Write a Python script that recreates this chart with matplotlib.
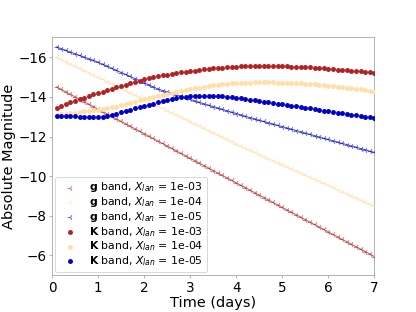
import numpy as np
import matplotlib
matplotlib.use("Agg")
import matplotlib.pyplot as plt

time_days = np.round(np.arange(1, 71) * 0.1, 1)

g_1e3 = [-14.50, -14.38, -14.25, -14.13, -14.00, -13.88, -13.76, -13.63, -13.51, -13.38,
         -13.26, -13.14, -13.01, -12.89, -12.76, -12.64, -12.52, -12.39, -12.27, -12.14,
         -12.02, -11.90, -11.77, -11.65, -11.52, -11.40, -11.28, -11.15, -11.03, -10.90,
         -10.78, -10.66, -10.53, -10.41, -10.28, -10.16, -10.04, -9.91, -9.79, -9.66,
         -9.54, -9.42, -9.29, -9.17, -9.04, -8.92, -8.80, -8.67, -8.55, -8.42,
         -8.30, -8.18, -8.05, -7.93, -7.80, -7.68, -7.56, -7.43, -7.31, -7.18,
         -7.06, -6.94, -6.81, -6.69, -6.56, -6.44, -6.32, -6.19, -6.07, -5.94]
g_1e4 = [-16.00, -15.89, -15.78, -15.66, -15.55, -15.44, -15.33, -15.22, -15.10, -14.99,
         -14.88, -14.77, -14.66, -14.54, -14.43, -14.32, -14.21, -14.10, -13.98, -13.87,
         -13.76, -13.65, -13.54, -13.42, -13.31, -13.20, -13.09, -12.98, -12.86, -12.75,
         -12.64, -12.53, -12.42, -12.30, -12.19, -12.08, -11.97, -11.86, -11.74, -11.63,
         -11.52, -11.41, -11.30, -11.20, -11.09, -10.99, -10.88, -10.78, -10.68, -10.57,
         -10.47, -10.36, -10.26, -10.16, -10.05, -9.95, -9.84, -9.74, -9.64, -9.53,
         -9.43, -9.32, -9.22, -9.12, -9.01, -8.91, -8.80, -8.70, -8.60, -8.49]
g_1e5 = [-16.52, -16.43, -16.35, -16.26, -16.18, -16.09, -16.01, -15.92, -15.84, -15.75,
         -15.65, -15.55, -15.44, -15.34, -15.23, -15.13, -15.03, -14.92, -14.82, -14.71,
         -14.61, -14.50, -14.40, -14.32, -14.25, -14.17, -14.10, -14.02, -13.95, -13.87,
         -13.80, -13.72, -13.65, -13.58, -13.51, -13.44, -13.37, -13.30, -13.23, -13.16,
         -13.09, -13.02, -12.95, -12.89, -12.82, -12.76, -12.69, -12.63, -12.56, -12.50,
         -12.43, -12.37, -12.30, -12.24, -12.17, -12.11, -12.04, -11.98, -11.91, -11.85,
         -11.78, -11.72, -11.65, -11.59, -11.52, -11.46, -11.39, -11.33, -11.26, -11.20]
K_1e3 = [-13.45, -13.54, -13.63, -13.72, -13.80, -13.88, -13.96, -14.04, -14.12, -14.20,
         -14.27, -14.34, -14.41, -14.48, -14.55, -14.62, -14.69, -14.76, -14.82, -14.88,
         -14.93, -14.98, -15.03, -15.08, -15.12, -15.16, -15.20, -15.24, -15.27, -15.30,
         -15.33, -15.36, -15.39, -15.42, -15.44, -15.46, -15.48, -15.50, -15.52, -15.53,
         -15.54, -15.55, -15.56, -15.57, -15.57, -15.57, -15.57, -15.56, -15.56, -15.55,
         -15.54, -15.53, -15.52, -15.51, -15.50, -15.49, -15.47, -15.45, -15.44, -15.42,
         -15.40, -15.38, -15.37, -15.35, -15.33, -15.31, -15.29, -15.27, -15.25, -15.23]
K_1e4 = [-13.10, -13.12, -13.14, -13.17, -13.20, -13.23, -13.27, -13.30, -13.33, -13.36,
         -13.40, -13.43, -13.47, -13.51, -13.57, -13.63, -13.69, -13.76, -13.83, -13.89,
         -13.95, -14.01, -14.06, -14.11, -14.16, -14.21, -14.26, -14.31, -14.35, -14.39,
         -14.43, -14.47, -14.51, -14.55, -14.59, -14.62, -14.64, -14.66, -14.68, -14.69,
         -14.70, -14.71, -14.72, -14.73, -14.73, -14.73, -14.73, -14.73, -14.72, -14.72,
         -14.71, -14.70, -14.69, -14.68, -14.66, -14.65, -14.63, -14.61, -14.59, -14.57,
         -14.55, -14.52, -14.49, -14.47, -14.44, -14.41, -14.38, -14.35, -14.31, -14.27]
K_1e5 = [-13.02, -13.02, -13.02, -13.01, -13.01, -13.00, -12.99, -12.98, -12.97, -12.96,
         -12.97, -13.02, -13.08, -13.15, -13.22, -13.29, -13.35, -13.42, -13.48, -13.54,
         -13.60, -13.66, -13.72, -13.78, -13.84, -13.89, -13.93, -13.97, -14.00, -14.02,
         -14.04, -14.05, -14.06, -14.06, -14.06, -14.05, -14.03, -14.01, -13.99, -13.96,
         -13.93, -13.89, -13.86, -13.83, -13.79, -13.76, -13.73, -13.69, -13.66, -13.62,
         -13.59, -13.55, -13.52, -13.48, -13.45, -13.42, -13.38, -13.35, -13.31, -13.28,
         -13.24, -13.21, -13.17, -13.14, -13.10, -13.07, -13.03, -13.00, -12.96, -12.93]

xlan_labels = ["1e-03", "1e-04", "1e-05"]
colors = ["#b22222", "#ffdfa8", "#0000cd"]

fig = plt.figure(figsize=(6.4, 4.8), dpi=65)
fig.subplots_adjust(left=0.125, right=0.9, top=0.88, bottom=0.118)
ax = fig.add_subplot(111)

for vals, lab, c in zip([g_1e3, g_1e4, g_1e5], xlan_labels, colors):
    ax.plot(time_days, vals, color=c, lw=1.2, alpha=0.7, zorder=2)
    ax.scatter(time_days, vals, marker="3", s=40, color=c, alpha=0.7, linewidths=0.9,
               label=r"$\mathbf{g}$ band, $X_{lan}$ = " + lab, zorder=3)
for vals, lab, c in zip([K_1e3, K_1e4, K_1e5], xlan_labels, colors):
    ax.scatter(time_days, vals, marker="o", s=30, color=c, linewidths=0,
               label=r"$\mathbf{K}$ band, $X_{lan}$ = " + lab, zorder=4)

ax.set_xlim(0, 7)
ax.set_ylim(-5, -17)
ax.set_yticks([-16, -14, -12, -10, -8, -6])
ax.set_xlabel("Time (days)", fontsize=16, labelpad=1)
ax.set_ylabel("Absolute Magnitude", fontsize=16, labelpad=2)
ax.tick_params(labelsize=15, color="#999999", pad=2.5)
for s in ax.spines.values():
    s.set_color("#999999")
ax.legend(loc="lower left", fontsize=12, scatterpoints=1, handletextpad=0.8,
          borderpad=0.35, labelspacing=0.08, borderaxespad=0.3)

fig.savefig("out.png", dpi=65)
